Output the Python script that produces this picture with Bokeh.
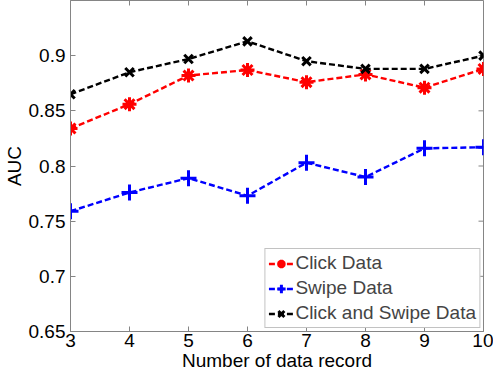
import math
from bokeh.plotting import figure
from bokeh.models import FixedTicker, Legend, LegendItem
from bokeh.embed import file_html
from bokeh.resources import INLINE

records = [3, 4, 5, 6, 7, 8, 9, 10]
click = [0.834, 0.856, 0.882, 0.887, 0.876, 0.883, 0.871, 0.888]
swipe = [0.759, 0.776, 0.789, 0.773, 0.803, 0.790, 0.816, 0.817]
both = [0.865, 0.885, 0.897, 0.913, 0.895, 0.888, 0.888, 0.900]
yticks = [0.65, 0.7, 0.75, 0.8, 0.85, 0.9]
y_lo, y_hi = 0.65, 0.95

FONT = "Liberation Sans"
GRAY = "#858585"

p = figure(width=493, height=373, x_range=(records[0], records[-1]), y_range=(y_lo, y_hi),
           output_backend="svg", toolbar_location=None,
           min_border_left=65, min_border_right=10, min_border_top=0, min_border_bottom=10)
p.xgrid.visible = False
p.ygrid.visible = False
p.outline_line_color = GRAY
p.background_fill_color = "white"

p.xaxis.ticker = FixedTicker(ticks=records)
p.yaxis.ticker = FixedTicker(ticks=yticks)
p.yaxis.major_label_overrides = {0.65: "0.65", 0.7: "0.7", 0.75: "0.75", 0.8: "0.8", 0.85: "0.85", 0.9: "0.9"}

for ax in (p.xaxis[0], p.yaxis[0]):
    ax.major_tick_in = 5
    ax.major_tick_out = 0
    ax.minor_tick_in = 0
    ax.minor_tick_out = 0
    ax.axis_line_color = GRAY
    ax.major_tick_line_color = GRAY
    ax.major_label_text_font = FONT
    ax.major_label_text_font_size = "19px"
    ax.major_label_text_color = "black"
    ax.axis_label_text_font = FONT
    ax.axis_label_text_font_size = "19px"
    ax.axis_label_text_font_style = "normal"
    ax.axis_label_text_color = "black"

p.xaxis.axis_label = "Number of data record"
p.yaxis.axis_label = "AUC"
p.xaxis.major_label_standoff = 2
p.xaxis.axis_label_standoff = 0
p.yaxis.major_label_standoff = 5
p.yaxis.axis_label_standoff = 1

# MATLAB-style inward ticks on the top and right edges of the box
p.scatter(records, [y_hi] * len(records), marker="dash", angle=math.pi / 2, size=10,
          line_color=GRAY, line_width=1)
p.scatter([records[-1]] * len(yticks), yticks, marker="dash", size=10,
          line_color=GRAY, line_width=1)

dash = "6 3"
l1 = p.line(records, click, line_color="red", line_width=2.4, line_dash=dash)
m1 = p.scatter(records, click, marker="asterisk", size=14, line_color="red", line_width=3)
l2 = p.line(records, swipe, line_color="blue", line_width=2.4, line_dash=dash)
m2 = p.scatter(records, swipe, marker="cross", size=16, line_color="blue", line_width=3)
l3 = p.line(records, both, line_color="black", line_width=2.4, line_dash=dash)
m3 = p.scatter(records, both, marker="x", size=12, line_color="black", line_width=3)

legend = Legend(items=[
    LegendItem(label="Click Data", renderers=[l1, m1]),
    LegendItem(label="Swipe Data", renderers=[l2, m2]),
    LegendItem(label="Click and Swipe Data", renderers=[l3, m3]),
], location="bottom_right")
legend.margin = 3
legend.padding = 3
legend.spacing = 3
legend.label_height = 21
legend.glyph_height = 21
legend.glyph_width = 25
legend.label_standoff = 2
legend.label_text_font = FONT
legend.label_text_font_size = "19px"
legend.border_line_color = GRAY
legend.border_line_width = 1
legend.background_fill_alpha = 1
p.add_layout(legend, "center")

open("out.html", "w").write(file_html(p, INLINE))
